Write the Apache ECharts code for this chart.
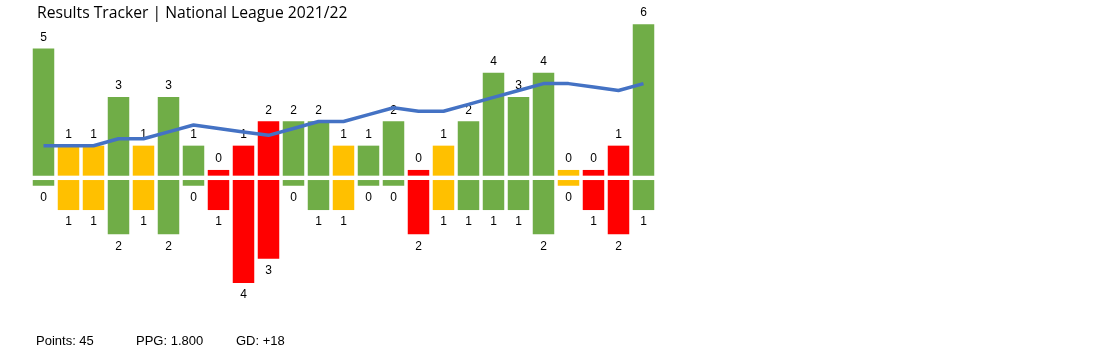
<!DOCTYPE html>
<html>
<head>
<meta charset="utf-8">
<script src="https://cdn.jsdelivr.net/npm/echarts@6/dist/echarts.min.js"></script>
<style>
  html, body { margin: 0; padding: 0; background: #fff; }
  #chart { width: 1105px; height: 355px; }
</style>
</head>
<body>
<div id="chart"></div>
<script>
// one entry per league match, in order
const matches = ["1","2","3","4","5","6","7","8","9","10","11","12","13","14","15","16","17","18","19","20","21","22","23","24","25"];
const goalsFor     = [5,1,1,3,1,3,1,0,1,2,2,2,1,1,2,0,1,2,4,3,4,0,0,1,6];
const goalsAgainst = [0,1,1,2,1,2,0,1,4,3,0,1,1,0,0,2,1,1,1,1,2,0,1,2,1];
// running points above a 1-point-per-game pace
const trend = [2,2,2,4,4,6,8,7,6,5,7,9,9,11,13,12,12,14,16,18,20,20,19,18,20];

const colors = { W: "#70AD47", D: "#FFC000", L: "#FF0000" };
const stub = 0.235;   // so a 0 still shows as a thin bar
const gap = 0.09;     // white split at the zero line

const resultOf = (i) => goalsFor[i] > goalsAgainst[i] ? "W" : (goalsFor[i] < goalsAgainst[i] ? "L" : "D");

const chart = echarts.init(document.getElementById("chart"));

const barBase = { type: "bar", stack: "g", barWidth: 21.5, animation: false };

chart.setOption({
  title: {
    text: "Results Tracker | National League 2021/22",
    left: 32, top: 1,
    textStyle: { fontFamily: "Open Sans", fontSize: 15.7, fontWeight: "normal", color: "#000" }
  },
  grid: { left: 31, top: 7.75, width: 625, height: 315.9, containLabel: false },
  xAxis: { type: "category", data: matches, show: false, boundaryGap: true },
  yAxis: [
    { type: "value", min: -6, max: 7, show: false },
    { type: "value", min: -49.6, max: 42, show: false }
  ],
  series: [
    Object.assign({}, barBase, {
      silent: true,
      itemStyle: { color: "rgba(0,0,0,0)" },
      data: matches.map(() => gap)
    }),
    Object.assign({}, barBase, {
      silent: true,
      itemStyle: { color: "rgba(0,0,0,0)" },
      data: matches.map(() => -gap)
    }),
    Object.assign({}, barBase, {
      data: goalsFor.map((g, i) => ({ value: g + stub, itemStyle: { color: colors[resultOf(i)] } })),
      label: {
        show: true, position: "top", distance: 5,
        fontFamily: "Liberation Sans", fontSize: 12, color: "#000",
        formatter: (p) => goalsFor[p.dataIndex]
      }
    }),
    Object.assign({}, barBase, {
      data: goalsAgainst.map((g, i) => ({ value: -(g + stub), itemStyle: { color: colors[resultOf(i)] } })),
      label: {
        show: true, position: "bottom", distance: 6,
        fontFamily: "Liberation Sans", fontSize: 12, color: "#000",
        formatter: (p) => goalsAgainst[p.dataIndex]
      }
    }),
    {
      type: "line", yAxisIndex: 1, data: trend,
      symbol: "none", animation: false, z: 5,
      lineStyle: { color: "#4472C4", width: 3.5 }
    }
  ],
  graphic: [
    { type: "text", left: 36, top: 335, style: { text: "Points: 45", font: "13px 'Liberation Sans'", fill: "#000" } },
    { type: "text", left: 136, top: 335, style: { text: "PPG: 1.800", font: "13px 'Liberation Sans'", fill: "#000" } },
    { type: "text", left: 236, top: 335, style: { text: "GD: +18", font: "13px 'Liberation Sans'", fill: "#000" } }
  ]
});
</script>
</body>
</html>
